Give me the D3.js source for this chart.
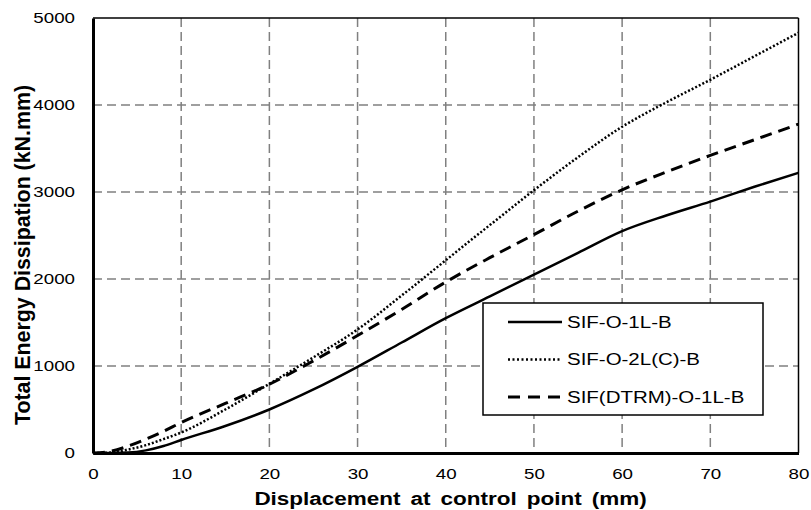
<!DOCTYPE html>
<html>
<head>
<meta charset="utf-8">
<script src="https://cdn.jsdelivr.net/npm/d3@7"></script>
<style>
  body { margin: 0; background: #fff; }
  svg { display: block; font-family: "Liberation Sans", Arial, sans-serif; }
</style>
</head>
<body>
<svg id="chart" width="811" height="510"></svg>
<script>
// Displacement at control point (mm)
const displacement = [0, 2, 4, 6, 8, 10, 15, 20, 25, 30, 35, 40, 45, 50, 55, 60, 65, 70, 75, 80];

// Total energy dissipation (kN.mm) for each specimen
const sifO1L = [0, 0, 5, 30, 80, 150, 310, 500, 730, 990, 1270, 1550, 1800, 2050, 2300, 2550, 2730, 2890, 3060, 3220];
const sifO2LC = [0, 5, 40, 90, 160, 235, 500, 795, 1100, 1420, 1810, 2215, 2620, 3020, 3400, 3750, 4030, 4290, 4560, 4830];
const sifDTRM = [0, 20, 80, 160, 250, 350, 570, 790, 1060, 1350, 1650, 1965, 2245, 2510, 2780, 3025, 3230, 3420, 3600, 3780];

const seriesNames = ["SIF-O-1L-B", "SIF-O-2L(C)-B", "SIF(DTRM)-O-1L-B"];
const xTicks = [0, 10, 20, 30, 40, 50, 60, 70, 80];
const yTicks = [0, 1000, 2000, 3000, 4000, 5000];

const svg = d3.select("#chart");
const plotLeft = 93, plotRight = 798.5, plotTop = 18, plotBottom = 453;
const widen = 1.25; // horizontal stretch applied to the lettering

const x = d3.scaleLinear().domain([0, 80]).range([plotLeft, plotRight]);
const y = d3.scaleLinear().domain([0, 5000]).range([plotBottom, plotTop]);

// Dashed grid
const grid = svg.append("g").attr("stroke", "#808080").attr("stroke-width", 1.5)
  .attr("stroke-dasharray", "9,5").attr("fill", "none");
xTicks.filter(t => t > 0 && t < 80).forEach(t => {
  grid.append("line").attr("x1", x(t)).attr("x2", x(t)).attr("y1", y(5000)).attr("y2", y(0));
});
yTicks.filter(t => t > 0 && t < 5000).forEach(t => {
  grid.append("line").attr("x1", x(0)).attr("x2", x(80)).attr("y1", y(t)).attr("y2", y(t));
});

// Frame
svg.append("line").attr("x1", x(0)).attr("x2", x(80)).attr("y1", y(5000)).attr("y2", y(5000))
  .attr("stroke", "#000").attr("stroke-width", 1.5);
svg.append("line").attr("x1", x(80)).attr("x2", x(80)).attr("y1", y(5000)).attr("y2", y(0))
  .attr("stroke", "#000").attr("stroke-width", 1.5);

// Axes
const xAxis = svg.append("g").attr("transform", `translate(0,${plotBottom})`)
  .call(d3.axisBottom(x).tickValues(xTicks).tickSize(0).tickPadding(15));
const yAxis = svg.append("g").attr("transform", `translate(${plotLeft},0)`)
  .call(d3.axisLeft(y).tickValues(yTicks).tickSize(0).tickPadding(18).tickFormat(d3.format("d")));
[xAxis, yAxis].forEach(a => {
  a.select(".domain").attr("stroke", "#000").attr("stroke-width", 3);
  a.selectAll("text").attr("font-size", 15).attr("fill", "#000")
    .attr("font-family", "'Liberation Sans', Arial, sans-serif");
});
xAxis.selectAll("text").attr("transform", `scale(${widen},1)`);
yAxis.selectAll("text").attr("transform", `translate(-18,0) scale(${widen},1) translate(18,0)`);

// Series lines
const series = [
  { name: seriesNames[0], values: sifO1L, dash: null, legendDash: null, width: 2.5 },
  { name: seriesNames[1], values: sifO2LC, dash: "2,2", legendDash: "2,2.5", width: 2.5 },
  { name: seriesNames[2], values: sifDTRM, dash: "12,7", legendDash: "12,8", width: 3 }
];
const line = d3.line().x(d => x(d[0])).y(d => y(d[1])).curve(d3.curveMonotoneX);
series.forEach(s => {
  svg.append("path")
    .datum(displacement.map((d, i) => [d, s.values[i]]))
    .attr("d", line)
    .attr("fill", "none").attr("stroke", "#000")
    .attr("stroke-width", s.width)
    .attr("stroke-dasharray", s.dash);
});

// Legend
const lg = svg.append("g");
lg.append("rect").attr("x", 483).attr("y", 303).attr("width", 280).attr("height", 112)
  .attr("fill", "#fff").attr("stroke", "#000").attr("stroke-width", 1.5);
series.forEach((s, i) => {
  const ly = 322 + i * 37.5;
  lg.append("line").attr("x1", 508).attr("x2", 562).attr("y1", ly).attr("y2", ly)
    .attr("stroke", "#000").attr("stroke-width", s.width)
    .attr("stroke-dasharray", s.legendDash);
  lg.append("text")
    .attr("transform", `translate(567,${ly + 5.5}) scale(1.28,1)`)
    .attr("font-size", 16).text(s.name);
});

// Axis titles
svg.append("text")
  .attr("transform", `translate(${(258 + 643) / 2},505) scale(${widen},1)`)
  .attr("text-anchor", "middle")
  .attr("font-size", 18).attr("font-weight", "bold").attr("word-spacing", 3)
  .text("Displacement at control point (mm)");
svg.append("text")
  .attr("transform", `translate(30,255) scale(${widen},1) rotate(-90)`)
  .attr("text-anchor", "middle").attr("font-size", 18).attr("font-weight", "bold")
  .attr("textLength", 340).attr("lengthAdjust", "spacingAndGlyphs")
  .text("Total Energy Dissipation (kN.mm)");
</script>
</body>
</html>
